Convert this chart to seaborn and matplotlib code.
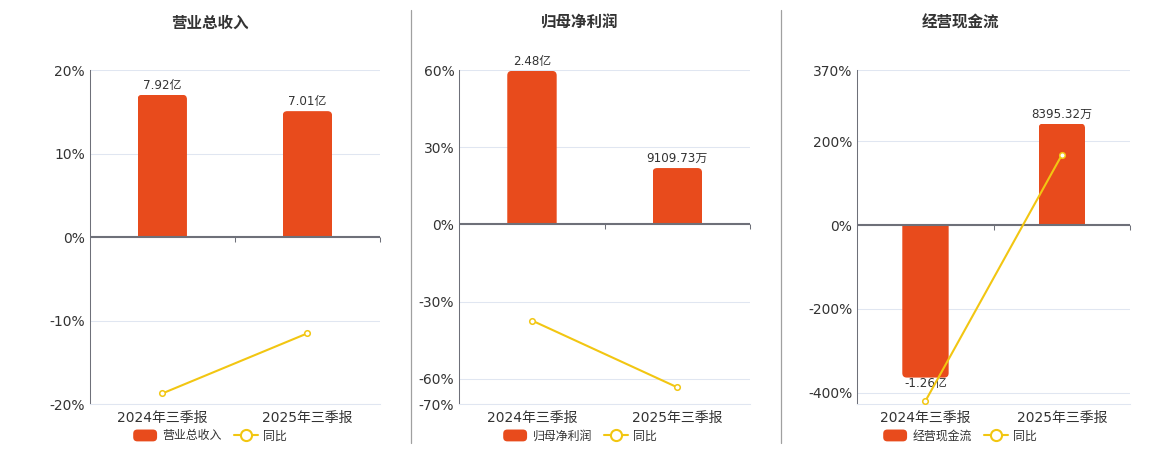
import matplotlib
matplotlib.use('Agg')
import matplotlib.pyplot as plt
import seaborn as sns
import pandas as pd
from matplotlib.patches import FancyBboxPatch, Rectangle, Patch
from matplotlib.lines import Line2D
from matplotlib.legend_handler import HandlerPatch

sns.set_theme(style='white')
plt.rcParams['font.family'] = ['DejaVu Sans', 'Noto Sans CJK SC']
plt.rcParams['axes.unicode_minus'] = False

# ---------------- data ----------------
categories = ['2024年三季报', '2025年三季报']
titles = ['营业总收入', '归母净利润', '经营现金流']
revenue_values = [7.92, 7.01]            # 亿
profit_values = [2.48, 0.910973]         # 亿
cashflow_values = [-1.26, 0.839532]      # 亿
revenue_labels = ['7.92亿', '7.01亿']
profit_labels = ['2.48亿', '9109.73万']
cashflow_labels = ['-1.26亿', '8395.32万']
revenue_yoy = [-18.7, -11.5]             # %
profit_yoy = [-37.4, -63.4]
cashflow_yoy = [-420.0, 167.7]
yoy_name = '同比'
revenue_ticks = [20, 10, 0, -10, -20]
profit_ticks = [60, 30, 0, -30, -60, -70]
cashflow_ticks = [370, 200, 0, -200, -400]
revenue_range = (-20, 20)
profit_range = (-70, 60)
cashflow_range = (-428, 370)

bar_values = [revenue_values, profit_values, cashflow_values]
bar_labels = [revenue_labels, profit_labels, cashflow_labels]
yoy_values = [revenue_yoy, profit_yoy, cashflow_yoy]
y_ticks = [revenue_ticks, profit_ticks, cashflow_ticks]
y_ranges = [revenue_range, profit_range, cashflow_range]

# ---------------- style / layout ----------------
BAR = '#E84B1C'
LINE = '#F2C612'
AXIS = '#6E7079'
GRID = '#E0E6F1'
TEXT = '#333333'
W, H = 1160, 450
panel_px = [(89.7, 380.0), (459.3, 750.0), (857.3, 1130.0)]
top_px, bot_px = 70.3, 404.3
center_x = [210, 580, 960]
bar_scale = [0.464, 0.0415, 0.00346]   # bar units per percent (hidden axis)
RADIUS_PX = 4.5


class RoundHandler(HandlerPatch):
    def create_artists(self, legend, orig_handle, xdescent, ydescent,
                       width, height, fontsize, trans):
        p = FancyBboxPatch((-xdescent, -ydescent), width, height,
                           boxstyle='round,pad=0,rounding_size=3',
                           facecolor=orig_handle.get_facecolor(),
                           edgecolor='none', transform=trans)
        return [p]


fig = plt.figure(figsize=(W / 100, H / 100), dpi=100)

for i in range(3):
    l, r = panel_px[i]
    ax = fig.add_axes([l / W, 1 - bot_px / H, (r - l) / W, (bot_px - top_px) / H])
    axb = ax.twinx()
    ax.set_zorder(axb.get_zorder() + 1)
    ax.patch.set_visible(False)

    k = bar_scale[i]
    y0, y1 = y_ranges[i]

    df_bar = pd.DataFrame({'period': categories, 'value': bar_values[i]})
    sns.barplot(data=df_bar, x='period', y='value', ax=axb, color=BAR,
                saturation=1, width=0.34, errorbar=None, linewidth=0,
                edgecolor='none', zorder=2)
    axb.set_xlim(-0.5, 1.5)
    axb.set_ylim(y0 * k, y1 * k)
    axb.set_yticks([])
    axb.set_ylabel('')
    for s in axb.spines.values():
        s.set_visible(False)
    for t in y_ticks[i]:
        if t != 0:
            axb.axhline(t * k, color=GRID, lw=0.75, zorder=0)

    # rounded bars + labels
    ax_w_px = r - l
    ax_h_px = bot_px - top_px
    sx = ax_w_px / 2.0
    sy = ax_h_px / ((y1 - y0) * k)
    rx = RADIUS_PX / sx
    ry = RADIUS_PX / sy
    rects = list(axb.patches)
    for j, p in enumerate(rects):
        x, w = p.get_x(), p.get_width()
        yb, h = p.get_y(), p.get_height()
        lo, hi = min(yb, yb + h), max(yb, yb + h)
        if h >= 0:
            box = FancyBboxPatch((x, lo - ry), w, (hi - lo) + ry,
                                 boxstyle=f'round,pad=0,rounding_size={rx}',
                                 mutation_aspect=sx / sy,
                                 facecolor=BAR, edgecolor='none', zorder=2)
        else:
            box = FancyBboxPatch((x, lo), w, (hi - lo) + ry,
                                 boxstyle=f'round,pad=0,rounding_size={rx}',
                                 mutation_aspect=sx / sy,
                                 facecolor=BAR, edgecolor='none', zorder=2)
        clip = Rectangle((x, lo), w, hi - lo, transform=axb.transData)
        p.remove()
        axb.add_patch(box)
        box.set_clip_path(clip)
        cx = x + w / 2
        if h >= 0:
            axb.annotate(bar_labels[i][j], (cx, hi), xytext=(0, 4.2),
                         textcoords='offset points', ha='center', va='baseline',
                         fontsize=8.6, color=TEXT, zorder=4)
        else:
            axb.annotate(bar_labels[i][j], (cx, lo), xytext=(0, -7.0),
                         textcoords='offset points', ha='center', va='baseline',
                         fontsize=8.6, color=TEXT, zorder=4)

    # yoy line
    df_line = pd.DataFrame({'period': categories, 'yoy': yoy_values[i]})
    sns.pointplot(data=df_line, x='period', y='yoy', ax=ax, color=LINE,
                  markers='o', linestyles='-', errorbar=None,
                  markersize=4.0, markeredgewidth=1.1, linewidth=1.5, zorder=6)
    for ln in ax.lines:
        ln.set_markerfacecolor('white')
        ln.set_zorder(6)

    ax.set_xlim(-0.5, 1.5)
    ax.set_ylim(y0, y1)
    ax.set_yticks(y_ticks[i], labels=[f'{t}%' for t in y_ticks[i]])
    ax.set_xticks([0, 1], labels=categories)
    ax.set_xlabel('')
    ax.set_ylabel('')
    ax.tick_params(axis='y', length=0, pad=3.6, labelsize=10, labelcolor=TEXT)
    ax.tick_params(axis='x', length=0, pad=5.0, labelsize=10, labelcolor=TEXT)
    ax.grid(False)
    axb.grid(False)
    for side in ['top', 'right']:
        ax.spines[side].set_visible(False)
    ax.spines['left'].set_color(AXIS)
    ax.spines['left'].set_linewidth(0.75)
    ax.spines['bottom'].set_color(GRID)
    ax.spines['bottom'].set_linewidth(0.75)

    # zero axis line and category boundary ticks
    ax.axhline(0, color=AXIS, lw=1.5, zorder=3)
    z = (0 - y0) / (y1 - y0)
    tl = 5.0 / ax_h_px
    ax.vlines([0.5, 1.5], z - tl, z, transform=ax.get_xaxis_transform(),
              color=AXIS, lw=0.75, clip_on=False, zorder=3)

    # title
    fig.text(center_x[i] / W, 1 - 23 / H, titles[i], ha='center', va='center',
             fontsize=11.2, fontweight='bold', color=TEXT)

    # legend
    bar_handle = Patch(facecolor=BAR)
    line_handle = Line2D([0], [0], color=LINE, lw=1.5, marker='o', markersize=8,
                         markerfacecolor='white', markeredgewidth=1.5)
    fig.legend(handles=[bar_handle, line_handle], labels=[titles[i], yoy_name],
               loc='center', bbox_to_anchor=(center_x[i] / W, 1 - 436 / H),
               bbox_transform=fig.transFigure, ncol=2, frameon=False,
               fontsize=8.6, handlelength=2.0, handleheight=1.15,
               handletextpad=0.45, columnspacing=1.0, borderpad=0,
               borderaxespad=0, labelcolor=TEXT,
               handler_map={Patch: RoundHandler()})

# separators
for xs in [410.5, 780.5]:
    fig.add_artist(Line2D([xs / W, xs / W], [1 - 10 / H, 1 - 443 / H],
                          color='#A0A0A0', lw=0.9, transform=fig.transFigure))

fig.savefig('out.png', dpi=100)
